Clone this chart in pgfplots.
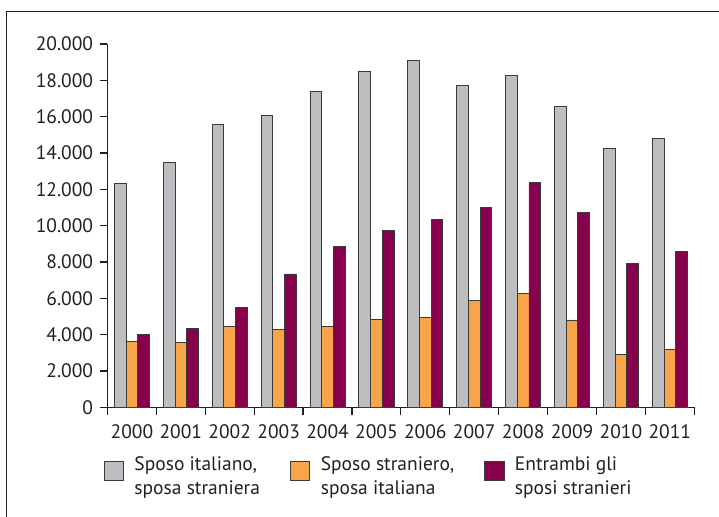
\documentclass[border=0pt]{standalone}
\usepackage{fontspec}
\setmainfont{PT Sans}
\usepackage{pgfplots}
\pgfplotsset{compat=1.18}

\definecolor{barGrey}{HTML}{BDBEC1}
\definecolor{barOrange}{HTML}{F8A54A}
\definecolor{barPurple}{HTML}{86004C}
\definecolor{edge}{HTML}{3A3A3A}
\definecolor{ink}{HTML}{231F20}

\pgfplotsset{
  boxlegend/.style={legend image code/.code={
      \draw[##1, draw=edge, line width=0.4pt] (0pt,-1.75pt) rectangle (9.7pt,7.9pt);
      \path (15pt,0pt);}},
}

\begin{document}
\fontsize{9.75pt}{11.65pt}\selectfont
\begin{tikzpicture}
\useasboundingbox (0,0) rectangle (359.5pt,258.5pt);
% open frame: left and top edges
\draw[ink, line width=0.7pt] (3.35pt,-1pt) -- (3.35pt,252.65pt) -- (361pt,252.65pt);
\begin{axis}[
  at={(53.75pt,54.85pt)}, anchor=south west,
  scale only axis, width=293.4pt, height=181.65pt,
  xmin=-0.5, xmax=11.5, ymin=0, ymax=20000,
  axis lines=left,
  axis line style={-, ink, line width=0.6pt},
  ybar=0pt, bar width=5.85pt,
  ytick={0,2000,...,20000},
  scaled y ticks=false,
  /pgf/number format/1000 sep={.},
  /pgf/number format/assume math mode=true,
  xtick={0,...,11},
  xticklabels={2000,2001,2002,2003,2004,2005,2006,2007,2008,2009,2010,2011},
  minor xtick={-0.5,0.5,...,11.5},
  major x tick style={draw=none},
  tick align=outside,
  tick style={ink, line width=0.6pt},
  major tick length=3.75pt, minor tick length=3.85pt,
  ticklabel style={font=\fontsize{9.75pt}{11.65pt}\selectfont, text=ink},
  xticklabel style={yshift=-1.6pt},
  legend columns=3,
  legend cell align=left,
  legend style={at={(axis description cs:-0.0072,-0.1354)}, anchor=north west,
    draw=none, fill=none, inner sep=0pt,
    font=\fontsize{9.75pt}{11.65pt}\selectfont, text=ink,
    nodes={align=left, inner sep=0pt},
    /tikz/every even column/.append style={column sep=15pt}},
]
\addplot[fill=barGrey, draw=edge, line width=0.4pt, boxlegend] coordinates {
  (0,12330) (1,13500) (2,15590) (3,16090) (4,17390) (5,18470)
  (6,19110) (7,17700) (8,18250) (9,16570) (10,14230) (11,14820)};
\addplot[fill=barOrange, draw=edge, line width=0.4pt, boxlegend] coordinates {
  (0,3610) (1,3580) (2,4470) (3,4290) (4,4440) (5,4820)
  (6,4970) (7,5870) (8,6290) (9,4810) (10,2930) (11,3170)};
\addplot[fill=barPurple, draw=edge, line width=0.4pt, boxlegend] coordinates {
  (0,4030) (1,4350) (2,5520) (3,7340) (4,8840) (5,9720)
  (6,10350) (7,11020) (8,12360) (9,10750) (10,7920) (11,8600)};
\addlegendentry{Sposo italiano,\\sposa straniera}
\addlegendentry{Sposo straniero,\\sposa italiana}
\addlegendentry{Entrambi gli\\sposi stranieri}
\end{axis}
\end{tikzpicture}
\end{document}
